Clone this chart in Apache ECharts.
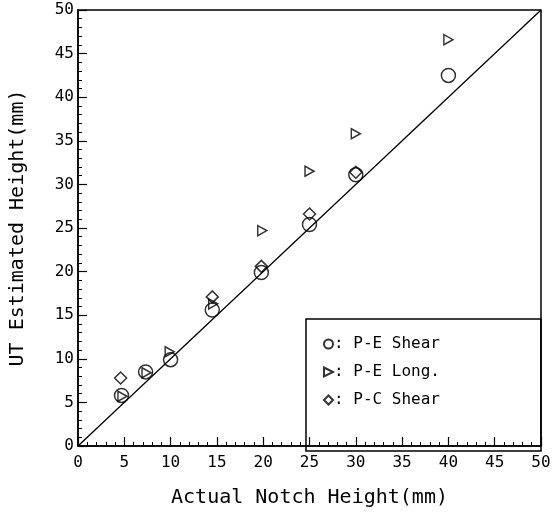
<!DOCTYPE html>
<html>
<head>
<meta charset="utf-8">
<script src="https://cdn.jsdelivr.net/npm/echarts@6/dist/echarts.min.js"></script>
<style>
  html, body { margin: 0; padding: 0; background: #fff; }
  #chart { width: 559px; height: 513px; }
</style>
</head>
<body>
<div id="chart"></div>
<script>
// P-E Shear (circles)
const shearX = [4.7, 7.3, 10, 14.5, 19.8, 25, 30, 40];
const shearY = [5.8, 8.5, 9.9, 15.6, 19.9, 25.4, 31.1, 42.5];
// P-E Long. (right triangles)
const longX = [4.8, 7.4, 9.9, 14.6, 19.9, 25, 30, 40];
const longY = [5.7, 8.4, 10.8, 16.3, 24.7, 31.5, 35.8, 46.6];
// P-C Shear (diamonds)
const pcX = [4.6, 14.5, 19.8, 25, 30];
const pcY = [7.8, 17.1, 20.6, 26.6, 31.4];
// 1:1 reference line
const lineX = [0, 50];
const lineY = [0, 50];

const font = "DejaVu Sans Mono";
const tri = "path://M0,0 L10,5 L0,10 Z";

function pairs(xs, ys) {
  return xs.map((x, i) => [x, ys[i]]);
}

let myChart = echarts.init(document.getElementById("chart"));
let option = {
  backgroundColor: "#fff",
  animation: false,
  grid: {
    left: 74,
    right: 18,
    top: 10,
    bottom: 62,
    show: true,
    borderColor: "#000",
    borderWidth: 1.5,
  },
  xAxis: {
    type: "value",
    min: 0,
    max: 50,
    interval: 5,
    name: "Actual Notch Height(mm)",
    nameLocation: "middle",
    nameGap: 42,
    nameTextStyle: { fontFamily: font, fontSize: 20, color: "#000" },
    axisLine: { lineStyle: { color: "#000", width: 1.5 } },
    axisTick: { inside: true, length: 9, lineStyle: { color: "#000", width: 1.2 } },
    minorTick: { show: true, splitNumber: 5, length: 4, lineStyle: { color: "#000", width: 1 } },
    axisLabel: { fontFamily: font, fontSize: 16, color: "#000", margin: 9 },
    splitLine: { show: false },
  },
  yAxis: {
    type: "value",
    min: 0,
    max: 50,
    interval: 5,
    name: "UT Estimated Height(mm)",
    nameLocation: "middle",
    nameGap: 50,
    nameTextStyle: { fontFamily: font, fontSize: 20, color: "#000" },
    axisLine: { lineStyle: { color: "#000", width: 1.5 } },
    axisTick: { inside: true, length: 9, lineStyle: { color: "#000", width: 1.2 } },
    minorTick: { show: true, splitNumber: 5, length: 4, lineStyle: { color: "#000", width: 1 } },
    axisLabel: { fontFamily: font, fontSize: 16, color: "#000", margin: 4 },
    splitLine: { show: false },
  },
  legend: {
    orient: "vertical",
    left: 318,
    top: 331,
    itemGap: 12,
    itemWidth: 9,
    itemHeight: 9,
    data: ["P-E Shear", "P-E Long.", "P-C Shear"],
    formatter: (name) => ": " + name,
    textStyle: { fontFamily: font, fontSize: 16, color: "#000", padding: [0, 0, 0, -4] },
  },
  graphic: [
    {
      //图例边框
      type: "rect",
      shape: { x: 306, y: 319, width: 235, height: 132 },
      style: { fill: "none", stroke: "#000", lineWidth: 1.5 },
      silent: true,
    },
  ],
  series: [
    {
      type: "line",
      data: pairs(lineX, lineY),
      showSymbol: false,
      lineStyle: { color: "#000", width: 1.3 },
      silent: true,
      z: 1,
    },
    {
      name: "P-E Shear",
      type: "scatter",
      data: pairs(shearX, shearY),
      symbol: "circle",
      symbolSize: 14,
      itemStyle: { color: "transparent", borderColor: "#000", borderWidth: 1.5 },
      z: 3,
    },
    {
      name: "P-E Long.",
      type: "scatter",
      data: pairs(longX, longY),
      symbol: tri,
      symbolSize: [9, 10],
      itemStyle: { color: "transparent", borderColor: "#000", borderWidth: 1.5 },
      z: 3,
    },
    {
      name: "P-C Shear",
      type: "scatter",
      data: pairs(pcX, pcY),
      symbol: "diamond",
      symbolSize: [12, 12],
      itemStyle: { color: "transparent", borderColor: "#000", borderWidth: 1.5 },
      z: 3,
    },
  ],
};
myChart.setOption(option);
</script>
</body>
</html>
